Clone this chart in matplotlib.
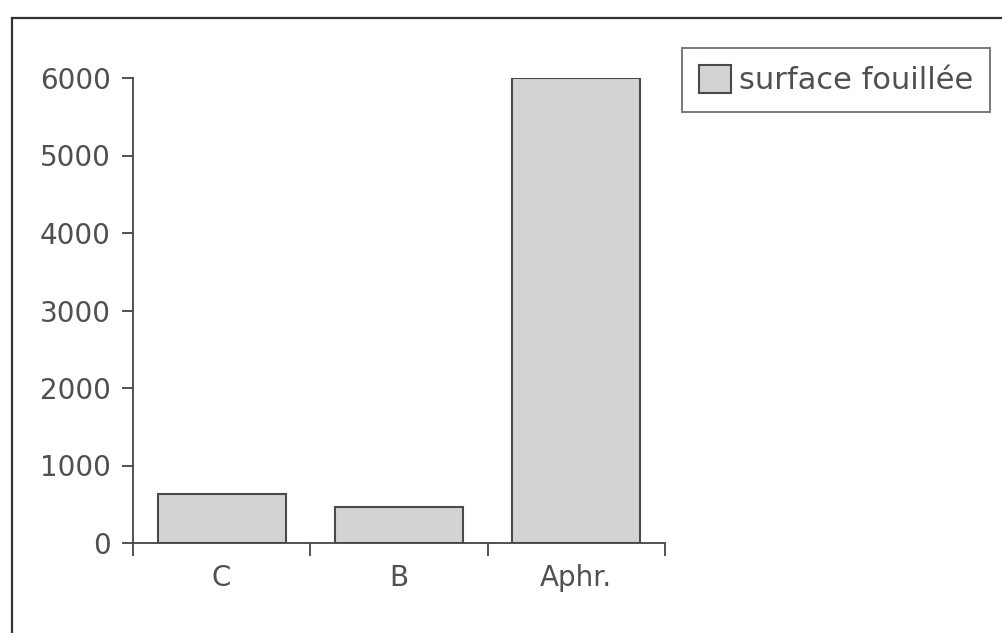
import matplotlib
matplotlib.use("Agg")
import matplotlib.pyplot as plt
from matplotlib.patches import Rectangle

# surface fouillée par secteur
categories = ["C", "B", "Aphr."]
surface = [630, 460, 6000]
yticks = [0, 1000, 2000, 3000, 4000, 5000, 6000]

grey = "#444444"
txt = "#505050"

fig = plt.figure(figsize=(10.02, 6.33), dpi=100)
fig.patch.set_facecolor("white")

# cadre du graphique (scan)
fig.patches.append(Rectangle((12 / 1002, -0.05), 1.2, (633 - 18) / 633 + 0.05,
                             transform=fig.transFigure, fill=False,
                             edgecolor="#333333", linewidth=1.6))

ax = fig.add_axes([133 / 1002, (633 - 543) / 633, (665 - 133) / 1002, (543 - 78) / 633])
x = range(len(categories))
ax.bar(x, surface, width=0.72, color="#d3d3d3", edgecolor="#4a4a4a",
       linewidth=1.5, label="surface fouillée")

ax.set_xlim(-0.5, 2.5)
ax.set_ylim(0, 6000)
ax.set_yticks(yticks)
ax.set_yticklabels([str(v) for v in yticks])
ax.set_xticks(list(x))
ax.set_xticklabels(categories)
ax.set_xticks([-0.5, 0.5, 1.5, 2.5], minor=True)

for s in ["top", "right"]:
    ax.spines[s].set_visible(False)
for s in ["left", "bottom"]:
    ax.spines[s].set_color(grey)
    ax.spines[s].set_linewidth(1.3)

ax.tick_params(axis="y", direction="out", length=8, width=1.3, color=grey,
               labelsize=20, labelcolor=txt, pad=8)
ax.tick_params(axis="x", which="major", length=0, labelsize=20,
               labelcolor=txt, pad=15)
ax.tick_params(axis="x", which="minor", direction="out", length=9,
               width=1.3, color=grey)

for t in ax.get_xticklabels() + ax.get_yticklabels():
    t.set_fontfamily("DejaVu Sans")

leg = fig.legend(loc="upper left", bbox_to_anchor=(682 / 1002, (633 - 48) / 633),
                 fontsize=22, frameon=True, fancybox=False, handlelength=1.05,
                 handleheight=1.05, handletextpad=0.25, borderpad=0.55,
                 borderaxespad=0)
leg.get_frame().set_edgecolor("#555555")
leg.get_frame().set_linewidth(1.4)
for t in leg.get_texts():
    t.set_color(txt)

fig.savefig("out.png", dpi=100, facecolor="white")
